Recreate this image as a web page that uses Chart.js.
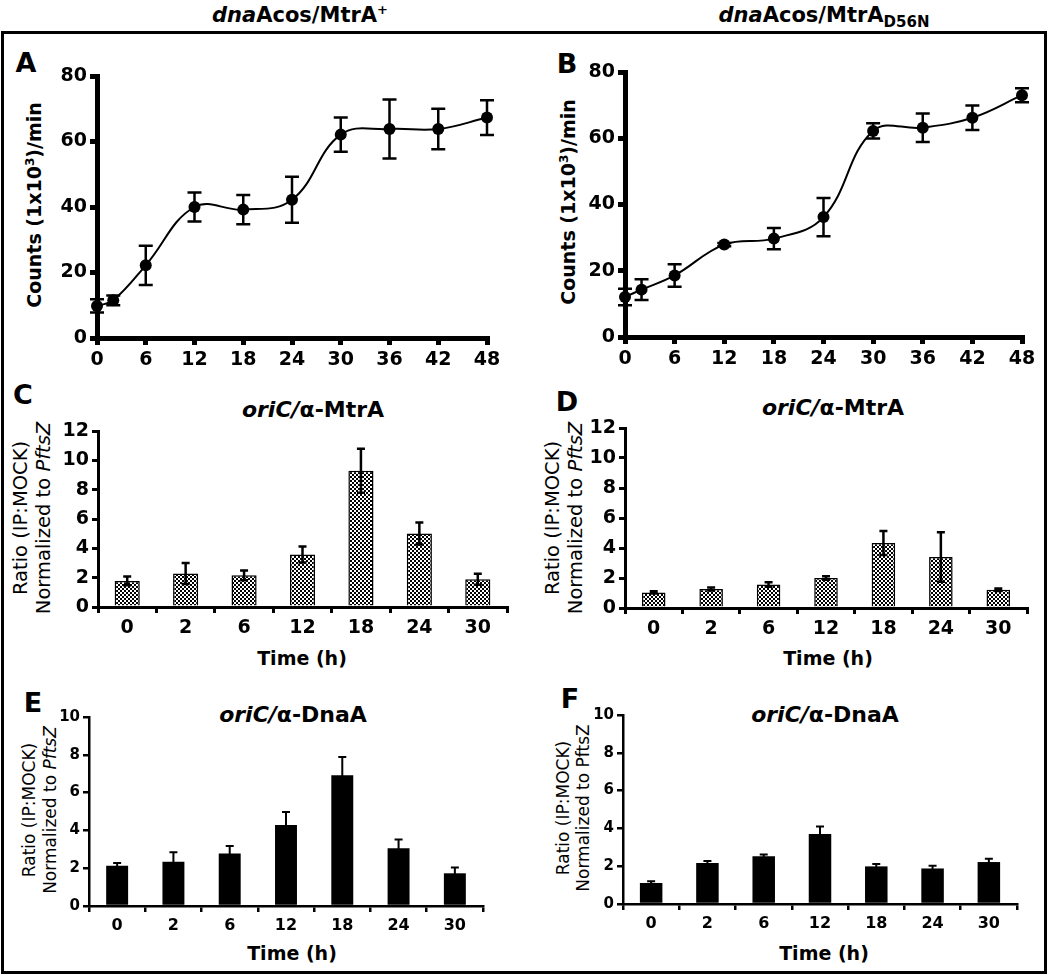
<!DOCTYPE html>
<html>
<head>
<meta charset="utf-8">
<script src="https://cdn.jsdelivr.net/npm/chart.js@4.4.1/dist/chart.umd.min.js"></script>
<style>
body { margin:0; background:#fff; width:1050px; height:977px; position:relative; overflow:hidden; font-family:'DejaVu Sans', sans-serif; color:#000; }
.frame { position:absolute; left:1px; top:31px; width:1046px; height:943px; border:3px solid #000; box-sizing:border-box; }
.lbl { position:absolute; transform:translate(-50%,-50%); white-space:nowrap; line-height:1; }
.ytitle { position:absolute; transform:translate(-50%,-50%) rotate(-90deg); white-space:nowrap; text-align:center; }
.head { font-weight:bold; font-size:21px; }
.letter { font-weight:bold; font-size:27px; }
.ptitle { font-weight:bold; font-size:22px; }
.xt { font-weight:bold; font-size:19px; }
sup, sub { line-height:0; }
</style>
</head>
<body>
<div class="frame"></div>

<div class="lbl head" style="left:300px;top:15px"><i>dna</i>Acos/MtrA<sup style="font-size:13px">+</sup></div>
<div class="lbl head" style="left:824px;top:15px"><i>dna</i>Acos/MtrA<sub style="font-size:15px">D56N</sub></div>

<div class="lbl letter" style="left:26px;top:62px">A</div>
<div class="lbl letter" style="left:567px;top:63px">B</div>
<div class="lbl letter" style="left:23px;top:394px">C</div>
<div class="lbl letter" style="left:567px;top:401px">D</div>
<div class="lbl letter" style="left:33px;top:702px">E</div>
<div class="lbl letter" style="left:570px;top:698px">F</div>

<div class="ytitle" style="left:34px;top:205px;font-weight:bold;font-size:19px">Counts (1x10<sup style="font-size:12px">3</sup>)/min</div>
<div class="ytitle" style="left:568px;top:202px;font-weight:bold;font-size:19px">Counts (1x10<sup style="font-size:12px">3</sup>)/min</div>
<div class="ytitle" style="left:32px;top:518px;font-size:19.5px;line-height:23px">Ratio (IP:MOCK)<br>Normalized to <i>PftsZ</i></div>
<div class="ytitle" style="left:564px;top:518px;font-size:19.5px;line-height:23px">Ratio (IP:MOCK)<br>Normalized to <i>PftsZ</i></div>
<div class="ytitle" style="left:40px;top:810px;font-size:17px;line-height:21px">Ratio (IP:MOCK)<br>Normalized to <i>PftsZ</i></div>
<div class="ytitle" style="left:573px;top:808px;font-size:17px;line-height:20px">Ratio (IP:MOCK)<br>Normalized to PftsZ</div>

<div class="lbl ptitle" style="left:313px;top:410px"><i>oriC/</i>α-MtrA</div>
<div class="lbl ptitle" style="left:833px;top:408px"><i>oriC/</i>α-MtrA</div>
<div class="lbl ptitle" style="left:293px;top:715px"><i>oriC/</i>α-DnaA</div>
<div class="lbl ptitle" style="left:825px;top:715px"><i>oriC/</i>α-DnaA</div>

<div class="lbl xt" style="left:302px;top:658px">Time (h)</div>
<div class="lbl xt" style="left:828px;top:658px">Time (h)</div>
<div class="lbl xt" style="left:292px;top:953px">Time (h)</div>
<div class="lbl xt" style="left:824px;top:953px">Time (h)</div>

<script>
// values
var hours = [0, 2, 6, 12, 18, 24, 30, 36, 42, 48];
var countsWT = [9.8, 11.5, 22.2, 40.0, 39.2, 42.2, 62.1, 63.8, 63.8, 67.3];
var countsWTErr = [2.0, 1.5, 6.0, 4.4, 4.5, 7.0, 5.2, 9.0, 6.2, 5.3];
var countsD56N = [12.1, 14.3, 18.6, 27.9, 29.7, 36.2, 62.2, 63.2, 66.2, 73.0];
var countsD56NErr = [2.5, 3.1, 3.4, 0.5, 3.2, 5.8, 2.3, 4.3, 3.7, 2.1];

var timeLabels = ['0', '2', '6', '12', '18', '24', '30'];
var mtrC = [1.78, 2.28, 2.16, 3.58, 9.29, 5.01, 1.89];
var mtrCErr = [0.3, 0.72, 0.33, 0.55, 1.5, 0.75, 0.38];
var mtrD = [1.04, 1.27, 1.56, 2.0, 4.33, 3.4, 1.22];
var mtrDErr = [0.07, 0.1, 0.15, 0.12, 0.8, 1.65, 0.08];
var dnaE = [2.13, 2.34, 2.78, 4.28, 6.92, 3.05, 1.73];
var dnaEErr = [0.15, 0.5, 0.4, 0.7, 0.97, 0.47, 0.31];
var dnaF = [1.11, 2.17, 2.52, 3.70, 1.99, 1.88, 2.22];
var dnaFErr = [0.1, 0.1, 0.1, 0.4, 0.12, 0.14, 0.17];

var FONT = 'DejaVu Sans';

// draws +/- error whiskers with caps
var errorBars = {
    id: 'errorBars',
    afterDatasetsDraw: function (chart, args, opts) {
        var ctx = chart.ctx;
        var ys = chart.scales.y;
        chart.data.datasets.forEach(function (ds, i) {
            if (!ds.errors) return;
            var meta = chart.getDatasetMeta(i);
            ctx.save();
            ctx.strokeStyle = '#000';
            ctx.lineWidth = opts.width;
            meta.data.forEach(function (el, j) {
                var v = ds.data[j];
                var val = (typeof v === 'object') ? v.y : v;
                var e = ds.errors[j];
                var x = el.x;
                var top = ys.getPixelForValue(val + e);
                var bot = ys.getPixelForValue(val - e);
                ctx.beginPath();
                ctx.moveTo(x, top); ctx.lineTo(x, bot);
                ctx.moveTo(x - opts.cap, top); ctx.lineTo(x + opts.cap, top);
                ctx.moveTo(x - opts.cap, bot); ctx.lineTo(x + opts.cap, bot);
                ctx.stroke();
            });
            ctx.restore();
        });
    }
};

function makeCanvas(box) {
    var c = document.createElement('canvas');
    c.width = box.w; c.height = box.h;
    c.style.cssText = 'position:absolute;left:' + box.x + 'px;top:' + box.y + 'px;width:' + box.w + 'px;height:' + box.h + 'px';
    document.body.appendChild(c);
    return c.getContext('2d');
}

function yAxis(max, step, width, size, lw, tl) {
    return {
        min: 0, max: max,
        ticks: { stepSize: step, color: '#000', padding: 3, font: { family: FONT, size: size, weight: 'bold' } },
        grid: { drawOnChartArea: false, drawTicks: true, tickLength: tl, lineWidth: lw, tickWidth: lw, color: '#000', tickColor: '#000' },
        border: { display: true, color: '#000', width: lw },
        afterFit: function (s) { s.width = width; }
    };
}

function xAxis(height, size, lw, tl) {
    return {
        ticks: { color: '#000', padding: 4, maxRotation: 0, autoSkip: false, font: { family: FONT, size: size, weight: 'bold' } },
        grid: { drawOnChartArea: false, drawTicks: true, tickLength: tl, lineWidth: lw, tickWidth: lw, color: '#000', tickColor: '#000' },
        border: { display: true, color: '#000', width: lw },
        afterFit: function (s) { s.height = height; }
    };
}

function hatch(ctx) {
    var p = document.createElement('canvas');
    p.width = 4; p.height = 4;
    var g = p.getContext('2d');
    g.fillStyle = '#fff'; g.fillRect(0, 0, 4, 4);
    g.fillStyle = '#000'; g.fillRect(0, 0, 2, 2); g.fillRect(2, 2, 2, 2);
    return ctx.createPattern(p, 'repeat');
}

// box = canvas rect, area = wanted chart area (page coords)
function lineChart(box, area, values, errs) {
    var ctx = makeCanvas(box);
    var pts = hours.map(function (h, i) { return { x: h, y: values[i] }; });
    var x = xAxis(box.y + box.h - area.b, 19, 5, 7);
    x.type = 'linear';
    x.min = 0;
    x.max = 48;
    x.ticks.stepSize = 6;
    new Chart(ctx, {
        type: 'line',
        data: {
            datasets: [{
                data: pts,
                errors: errs,
                borderColor: '#000',
                borderWidth: 2,
                backgroundColor: '#000',
                pointRadius: 6,
                pointBorderWidth: 0,
                tension: 0.4,
                clip: false
            }]
        },
        options: {
            responsive: false,
            animation: false,
            layout: { padding: { left: 0, top: area.t - box.y, right: box.x + box.w - area.r, bottom: 0 } },
            plugins: { legend: { display: false }, tooltip: { enabled: false }, errorBars: { width: 2.5, cap: 7 } },
            scales: {
                x: x,
                y: yAxis(80, 20, area.l - box.x, 19, 5, 7)
            }
        },
        plugins: [errorBars]
    });
}

function barChart(box, area, values, errs, opt) {
    var ctx = makeCanvas(box);
    new Chart(ctx, {
        type: 'bar',
        data: {
            labels: timeLabels,
            datasets: [{
                data: values,
                errors: errs,
                backgroundColor: opt.hatched ? hatch(ctx) : '#000',
                borderColor: '#000',
                borderWidth: opt.hatched ? 1.5 : 0,
                borderSkipped: 'bottom',
                barPercentage: opt.bar,
                categoryPercentage: 1.0
            }]
        },
        options: {
            responsive: false,
            animation: false,
            layout: { padding: { left: 0, top: area.t - box.y, right: box.x + box.w - area.r, bottom: 0 } },
            plugins: { legend: { display: false }, tooltip: { enabled: false }, errorBars: { width: opt.ew, cap: opt.cap } },
            scales: {
                x: xAxis(box.y + box.h - area.b, opt.font, opt.lw, 6),
                y: yAxis(opt.max, 2, area.l - box.x, opt.yfont, opt.lw, 6)
            }
        },
        plugins: [errorBars]
    });
}

lineChart({ x: 0, y: 50, w: 515, h: 330 }, { l: 97, t: 76, r: 487, b: 338 }, countsWT, countsWTErr);
lineChart({ x: 525, y: 50, w: 520, h: 330 }, { l: 625, t: 72, r: 1022, b: 337 }, countsD56N, countsD56NErr);

barChart({ x: 0, y: 410, w: 520, h: 240 }, { l: 98, t: 431, r: 507, b: 607 }, mtrC, mtrCErr,
    { hatched: true, max: 12, bar: 0.43, font: 19, yfont: 19, lw: 3, ew: 2.5, cap: 4 });
barChart({ x: 525, y: 410, w: 515, h: 240 }, { l: 625, t: 428, r: 1027, b: 608 }, mtrD, mtrDErr,
    { hatched: true, max: 12, bar: 0.41, font: 19, yfont: 19, lw: 3, ew: 2.5, cap: 4 });
barChart({ x: 0, y: 700, w: 500, h: 250 }, { l: 89, t: 717, r: 483, b: 906 }, dnaE, dnaEErr,
    { hatched: false, max: 10, bar: 0.39, font: 16, yfont: 15, lw: 2.5, ew: 2, cap: 4 });
barChart({ x: 525, y: 700, w: 510, h: 250 }, { l: 623, t: 715, r: 1017, b: 904 }, dnaF, dnaFErr,
    { hatched: false, max: 10, bar: 0.4, font: 16, yfont: 15, lw: 2.5, ew: 2, cap: 4 });
</script>
</body>
</html>
